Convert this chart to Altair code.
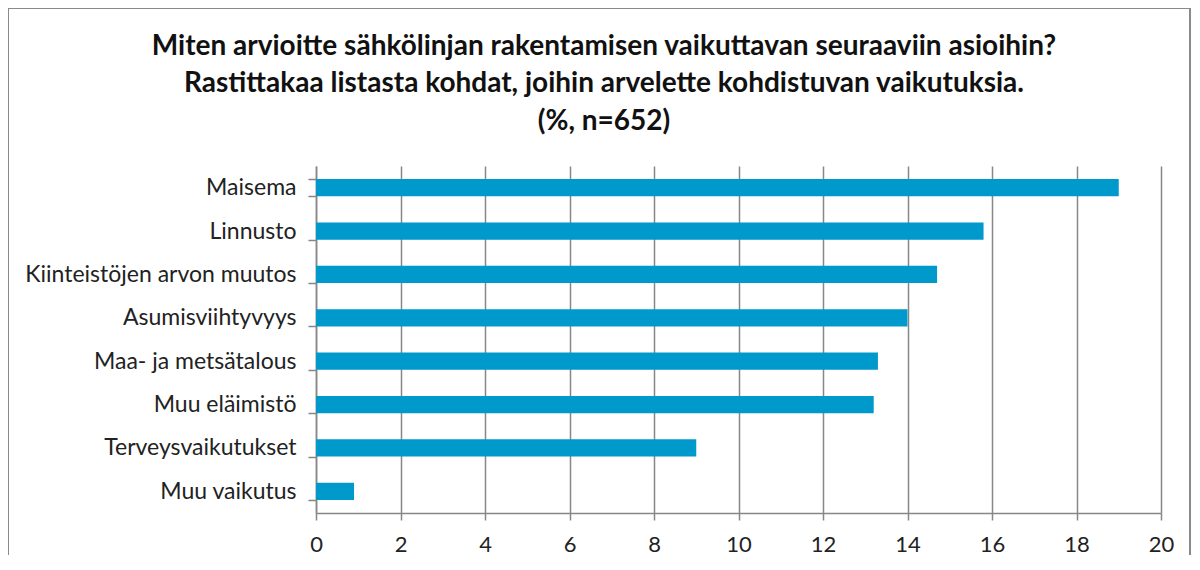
import altair as alt
import pandas as pd

categories = ["Maisema", "Linnusto", "Kiinteistöjen arvon muutos", "Asumisviihtyvyys",
              "Maa- ja metsätalous", "Muu eläimistö", "Terveysvaikutukset", "Muu vaikutus"]
values = [19.0, 15.8, 14.7, 14.0, 13.3, 13.2, 9.0, 0.9]
x_ticks = [0, 2, 4, 6, 8, 10, 12, 14, 16, 18, 20]
title_lines = ["Miten arvioitte sähkölinjan  rakentamisen vaikuttavan seuraaviin asioihin?",
               "Rastittakaa listasta kohdat, joihin  arvelette kohdistuvan vaikutuksia.",
               "(%, n=652)"]

df = pd.DataFrame({"kategoria": categories, "arvo": values})

FONT = "Lato"
GRID = "#878787"

bars = alt.Chart(df).mark_bar(color="#0099CC").encode(
    x=alt.X("arvo:Q", scale=alt.Scale(domain=[0, 20], nice=False),
            axis=alt.Axis(values=x_ticks, title=None, grid=True, gridColor=GRID, gridWidth=1.5,
                          domainColor=GRID, domainWidth=1.5, tickColor=GRID, tickWidth=1.5,
                          tickSize=7, labelFontSize=22, labelFont=FONT, labelColor="#222",
                          labelPadding=14, labelFlush=False)),
    y=alt.Y("kategoria:N", sort=categories,
            scale=alt.Scale(paddingInner=0.6, paddingOuter=0.3),
            axis=alt.Axis(title=None, tickBand="extent", domainColor=GRID, domainWidth=1.5,
                          tickColor=GRID, tickWidth=1.5, tickSize=8, labelFontSize=23,
                          labelFont=FONT, labelColor="#222", labelPadding=12, labelLimit=0)),
)

title_df = pd.DataFrame({"teksti": title_lines, "rivi": [0, 1, 2]})
title_marks = [
    alt.Chart(title_df).transform_filter(alt.datum.rivi == i).mark_text(
        font=FONT, fontSize=28, fontWeight="bold", color="#111", align="center",
        baseline="alphabetic", clip=False
    ).encode(text="teksti:N", x=alt.value(288), y=alt.value(yv))
    for i, yv in enumerate([-111, -74, -36])
]

border = alt.Chart(df).mark_rect(fill=None, stroke="#8a8a8a", strokeWidth=2, clip=False).encode(
    x=alt.value(-308), x2=alt.value(874), y=alt.value(-158), y2=alt.value(420)
)

chart = alt.layer(bars, *title_marks, border).properties(
    width=845, height=347,
    padding={"left": 308, "top": 158, "right": 30, "bottom": 42},
    autosize=alt.AutoSizeParams(type="none"),
).configure_view(stroke=None)

chart.save("out.html", embed_options={"renderer": "svg", "actions": False})
